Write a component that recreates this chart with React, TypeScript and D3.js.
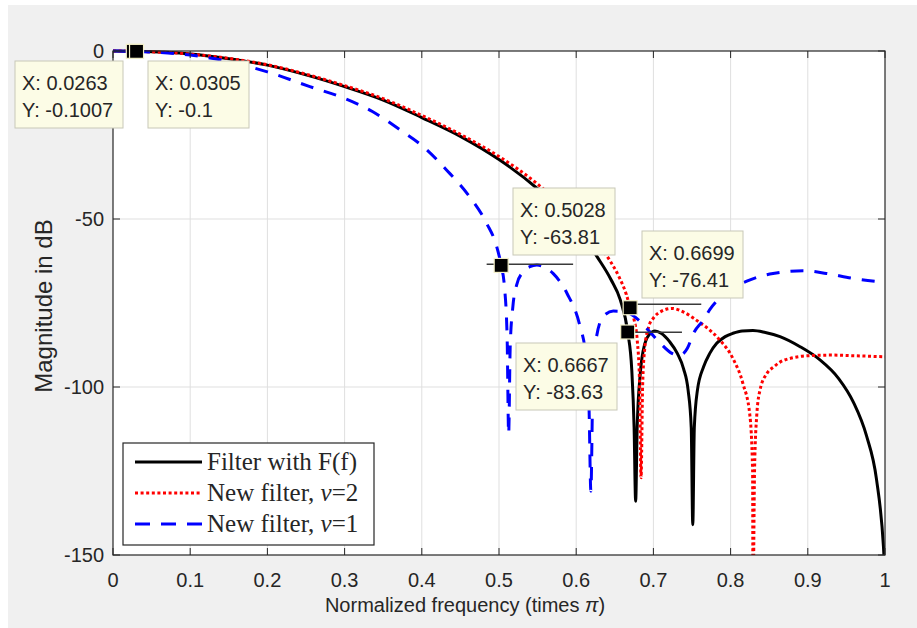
import * as d3 from "d3";

// frequency (times pi) and magnitude (dB)
const blackF = [0, 0.03, 0.1, 0.15, 0.2, 0.25, 0.3, 0.35, 0.4, 0.45, 0.5, 0.55, 0.6, 0.627, 0.645, 0.657, 0.6667, 0.672, 0.675, 0.677, 0.679, 0.683, 0.689, 0.695, 0.702, 0.71, 0.721, 0.731, 0.739, 0.745, 0.749, 0.751, 0.753, 0.757, 0.765, 0.773, 0.782, 0.793, 0.803, 0.815, 0.829, 0.845, 0.864, 0.89, 0.915, 0.94, 0.959, 0.976, 0.989, 0.998, 1.0];
const blackDb = [0, -0.1, -0.9, -2.3, -4.2, -7.1, -10.6, -14.6, -19.8, -25.4, -32.3, -41, -52, -61.2, -68, -74, -83.63, -95, -112, -134, -112, -96, -87, -84.3, -83.3, -84, -86.5, -90, -94.5, -101, -112, -141, -112, -101, -94, -90, -87, -85, -84, -83.3, -83.2, -83.8, -85, -88, -91.8, -97.5, -104.5, -114.5, -127.5, -147.5, -156];

const redF = [0, 0.03, 0.1, 0.15, 0.2, 0.25, 0.3, 0.35, 0.4, 0.45, 0.5, 0.55, 0.6, 0.625, 0.644, 0.655, 0.665, 0.6699, 0.675, 0.679, 0.682, 0.684, 0.686, 0.689, 0.694, 0.7, 0.71, 0.724, 0.74, 0.755, 0.769, 0.786, 0.803, 0.816, 0.825, 0.8285, 0.829, 0.831, 0.834, 0.838, 0.847, 0.856, 0.864, 0.877, 0.89, 0.91, 0.933, 0.96, 1.0];
const redDb = [0, -0.1, -0.9, -2.2, -4.1, -6.9, -10.3, -14.2, -19.2, -24.8, -31.4, -39.6, -50.3, -56.5, -62.5, -67, -72.5, -76.41, -80, -86, -98, -127, -100, -88, -82, -79.5, -77.5, -76.6, -77.8, -80, -82.3, -86, -91.5, -99, -108.5, -125, -165, -125, -108, -101, -96, -94, -92.6, -91.5, -90.9, -90.6, -90.5, -90.7, -91];

const blueF = [0, 0.05, 0.1, 0.14, 0.2, 0.255, 0.3, 0.336, 0.372, 0.402, 0.432, 0.462, 0.484, 0.497, 0.5028, 0.507, 0.5105, 0.5125, 0.5145, 0.518, 0.523, 0.531, 0.54, 0.549, 0.558, 0.57, 0.588, 0.605, 0.612, 0.6165, 0.619, 0.6215, 0.625, 0.635, 0.648, 0.66, 0.672, 0.683, 0.695, 0.709, 0.724, 0.734, 0.744, 0.752, 0.765, 0.773, 0.786, 0.795, 0.821, 0.855, 0.894, 0.924, 0.959, 1.0];
const blueDb = [0, -0.3, -1.2, -2.7, -6.2, -10.6, -14.1, -18, -23.5, -28.5, -35.4, -43.4, -51.3, -58.2, -63.81, -70, -85, -114, -88, -76, -69.5, -65.8, -64.2, -63.7, -64.2, -66.2, -72.1, -82, -90, -105, -131, -100, -87, -79, -77.4, -77.5, -78.5, -80.5, -83.5, -87, -90, -90.6, -88.5, -84, -80, -77, -73.5, -71.8, -68.5, -66.2, -65.4, -66.2, -67.7, -68.8];

const xTicks = [0, 0.1, 0.2, 0.3, 0.4, 0.5, 0.6, 0.7, 0.8, 0.9, 1];
const xTickLabels = ["0", "0.1", "0.2", "0.3", "0.4", "0.5", "0.6", "0.7", "0.8", "0.9", "1"];
const yTicks = [-150, -100, -50, 0];
const yTickLabels = ["-150", "-100", "-50", "0"];

// data tips
const tipX = [0.0263, 0.0305, 0.5028, 0.6699, 0.6667];
const tipY = [-0.1007, -0.1, -63.81, -76.41, -83.63];
const tipXText = ["0.0263", "0.0305", "0.5028", "0.6699", "0.6667"];
const tipYText = ["-0.1007", "-0.1", "-63.81", "-76.41", "-83.63"];
// level lines drawn next to the tips
const levelFrom = [0.484, 0.6699, 0.6667];
const levelTo = [0.596, 0.762, 0.737];
const levelDb = [-63.5, -75.4, -83.7];

const legendLabels = ["Filter with F(f)", "New filter, ", "New filter, "];
const legendNu = ["", "2", "1"];

// layout of the tip boxes (left, top, width) in px
const boxLayout = [
  [15, 61, 108],
  [148, 61, 101],
  [513, 188, 102],
  [642, 231, 101],
  [516, 343, 101],
];

const W = 917, H = 628;
const margin = { left: 113, right: 885, top: 51, bottom: 555 };

const styles = [
  { stroke: "#000000", width: 3, dash: "" },
  { stroke: "#ff0000", width: 3, dash: "3 2.6" },
  { stroke: "#0000ff", width: 3, dash: "13 11" },
];

export default function App() {
  const x = d3.scaleLinear().domain([0, 1]).range([margin.left, margin.right]);
  const y = d3.scaleLinear().domain([-150, 0]).range([margin.bottom, margin.top]);
  const line = d3
    .line<[number, number]>()
    .x((d) => x(d[0]))
    .y((d) => y(d[1]))
    .curve(d3.curveMonotoneX);

  const series = [
    blackF.map((f, i) => [f, blackDb[i]] as [number, number]),
    redF.map((f, i) => [f, redDb[i]] as [number, number]),
    blueF.map((f, i) => [f, blueDb[i]] as [number, number]),
  ];

  const sans = "'Liberation Sans', Arial, Helvetica, sans-serif";
  const serif = "'Liberation Serif', 'Times New Roman', serif";
  const axisColor = "#262626";

  return (
    <svg width={W} height={H} style={{ position: "absolute", left: 0, top: 0 }}>
      <rect x={0} y={0} width={W} height={H} fill="#ffffff" />
      <rect x={8} y={5} width={W - 8} height={H - 5} fill="#f0f0f0" />
      <rect x={margin.left} y={margin.top} width={margin.right - margin.left} height={margin.bottom - margin.top} fill="#ffffff" />
      <defs>
        <clipPath id="plotclip">
          <rect x={margin.left} y={margin.top - 2} width={margin.right - margin.left} height={margin.bottom - margin.top + 2} />
        </clipPath>
      </defs>

      {/* grid */}
      {xTicks.slice(1, -1).map((t) => (
        <line key={"gx" + t} x1={x(t)} x2={x(t)} y1={margin.top} y2={margin.bottom} stroke="#dfdfdf" strokeWidth={1} />
      ))}
      {yTicks.slice(1, -1).map((t) => (
        <line key={"gy" + t} x1={margin.left} x2={margin.right} y1={y(t)} y2={y(t)} stroke="#dfdfdf" strokeWidth={1} />
      ))}

      {/* curves */}
      <g clipPath="url(#plotclip)">
        {series.map((s, i) => (
          <path
            key={"s" + i}
            d={line(s) || ""}
            fill="none"
            stroke={styles[i].stroke}
            strokeWidth={styles[i].width}
            strokeDasharray={styles[i].dash || undefined}
            strokeLinejoin="round"
          />
        ))}
      </g>

      {/* axes box and ticks */}
      <rect x={margin.left} y={margin.top} width={margin.right - margin.left} height={margin.bottom - margin.top} fill="none" stroke={axisColor} strokeWidth={1.2} />
      {xTicks.map((t) => (
        <g key={"tx" + t}>
          <line x1={x(t)} x2={x(t)} y1={margin.bottom} y2={margin.bottom - 7} stroke={axisColor} />
          <line x1={x(t)} x2={x(t)} y1={margin.top} y2={margin.top + 7} stroke={axisColor} />
        </g>
      ))}
      {yTicks.map((t) => (
        <g key={"ty" + t}>
          <line x1={margin.left} x2={margin.left + 7} y1={y(t)} y2={y(t)} stroke={axisColor} />
          <line x1={margin.right} x2={margin.right - 7} y1={y(t)} y2={y(t)} stroke={axisColor} />
        </g>
      ))}
      {xTicks.map((t, i) => (
        <text key={"lx" + t} x={x(t)} y={587} textAnchor="middle" fontFamily={sans} fontSize={20} fill={axisColor}>
          {xTickLabels[i]}
        </text>
      ))}
      {yTicks.map((t, i) => (
        <text key={"ly" + t} x={margin.left - 9} y={y(t) + 7} textAnchor="end" fontFamily={sans} fontSize={20} fill={axisColor}>
          {yTickLabels[i]}
        </text>
      ))}
      <text x={465} y={612} textAnchor="middle" fontFamily={sans} fontSize={20} fill={axisColor}>
        Normalized frequency (times <tspan fontStyle="italic">π</tspan>)
      </text>
      <text
        transform={`translate(52,${(margin.top + margin.bottom) / 2 + 3}) rotate(-90)`}
        textAnchor="middle"
        fontFamily={sans}
        fontSize={24}
        fill={axisColor}
      >
        Magnitude in dB
      </text>

      {/* level lines + tips */}
      {levelDb.map((v, i) => (
        <line key={"lv" + i} x1={x(levelFrom[i])} x2={x(levelTo[i])} y1={y(v)} y2={y(v)} stroke="#3a3a3a" strokeWidth={1.5} />
      ))}
      {tipX.map((t, i) => (
        <rect key={"m" + i} x={x(t) - 7} y={y(tipY[i]) - 7} width={14} height={14} fill="#000" stroke="#f4f0c8" strokeWidth={1.2} />
      ))}
      {boxLayout.map((b, i) => (
        <g key={"b" + i}>
          <rect x={b[0]} y={b[1]} width={b[2]} height={67} fill="#fcfce6" stroke="#c8c8b8" strokeWidth={1} />
          <text x={b[0] + 7} y={b[1] + 29} fontFamily={sans} fontSize={20} fill="#262626">
            X: {tipXText[i]}
          </text>
          <text x={b[0] + 7} y={b[1] + 56} fontFamily={sans} fontSize={20} fill="#262626">
            Y: {tipYText[i]}
          </text>
        </g>
      ))}

      {/* legend */}
      <rect x={123} y={443} width={251} height={102} fill="#ffffff" stroke={axisColor} strokeWidth={1.2} />
      {legendLabels.map((lab, i) => (
        <g key={"lg" + i}>
          <line
            x1={135}
            x2={202}
            y1={462 + i * 31}
            y2={462 + i * 31}
            stroke={styles[i].stroke}
            strokeWidth={styles[i].width}
            strokeDasharray={i === 2 ? "15 11" : styles[i].dash || undefined}
          />
          <text x={207} y={470 + i * 31} fontFamily={serif} fontSize={25} fill="#262626">
            {lab}
            {legendNu[i] && (
              <>
                <tspan fontStyle="italic">ν</tspan>={legendNu[i]}
              </>
            )}
          </text>
        </g>
      ))}
    </svg>
  );
}
